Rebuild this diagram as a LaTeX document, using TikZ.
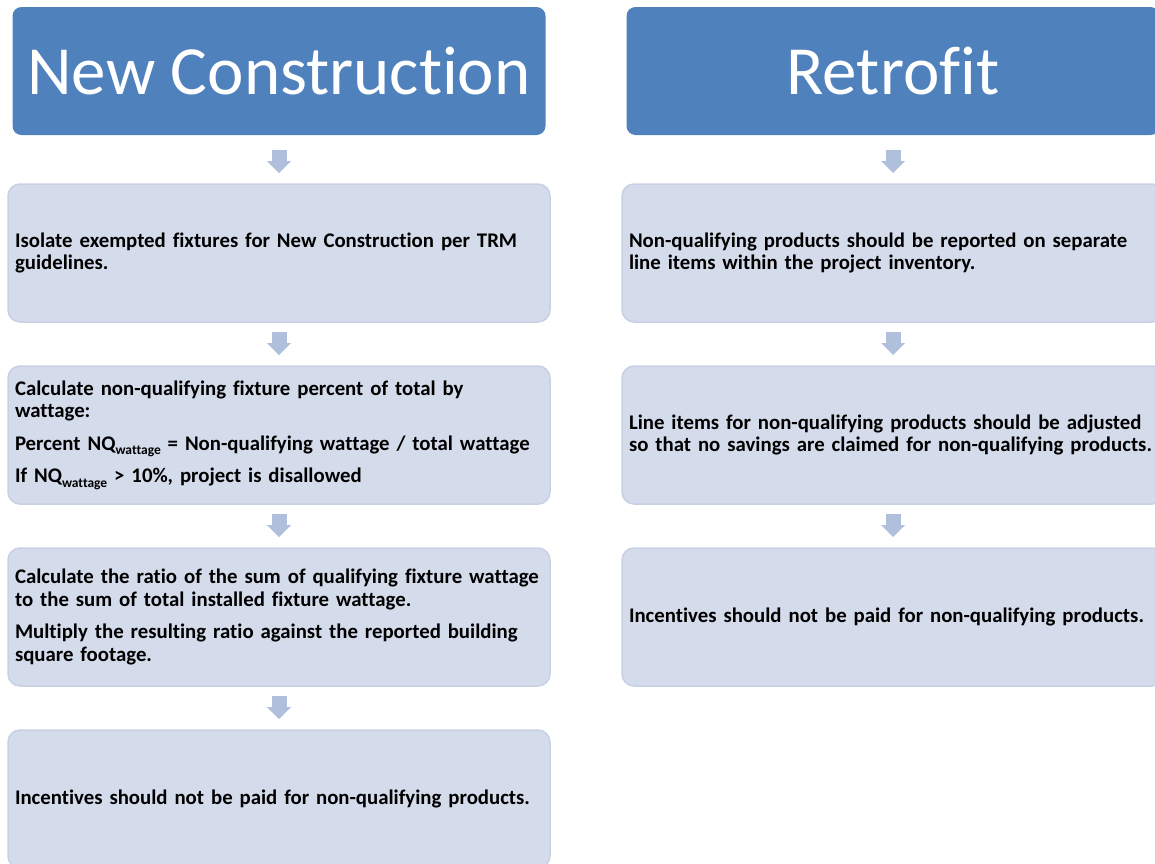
\documentclass[tikz,border=0pt]{standalone}
\usepackage{fontspec}
\setmainfont[Ligatures=NoCommon, Contextuals=NoAlternate]{Carlito}
\usetikzlibrary{positioning, arrows.meta}
\definecolor{headblue}{HTML}{4F81BD}
\definecolor{boxfill}{HTML}{D4DBEA}
\definecolor{boxline}{HTML}{C8D1E4}
\definecolor{arrowblue}{HTML}{AFBFDC}
\newcommand{\wattsub}{\raisebox{-0.45ex}{\fontsize{13.5}{13.5}\selectfont wattage}}
\tikzset{
    header/.style={fill=headblue, text=white, rounded corners=9pt, minimum width=533pt, minimum height=128pt, inner sep=0pt, outer sep=0pt, font=\fontsize{69}{80}\selectfont}, % the two title boxes
    stepbox/.style={fill=boxfill, draw=boxline, line width=1.5pt, rounded corners=12pt, text width=528pt, inner xsep=7pt, minimum height=138pt, outer sep=0pt, align=left, font=\bfseries\fontsize{20.8}{22.5}\selectfont}, % every step of a column
    flow/.style={draw=arrowblue, line width=15pt, -{Triangle[width=24pt, length=12pt, line width=0pt]}, shorten >=11pt, shorten <=10pt}, % block arrows between steps
    node distance=44pt, % gap between two steps
}
\begin{document}
\begin{tikzpicture}
                            \useasboundingbox (0,0) rectangle (1155pt,-863pt);
                            \clip (0,0) rectangle (1155pt,-863pt);
                            % left column
                            \node[header] (nc) at (279pt,-71pt) {New Construction};
                            \node[stepbox, below=49pt of nc] (n1) {Isolate exempted fixtures for New Construction per TRM\\ guidelines.};
                            \node[stepbox, below=of n1] (n2) {Calculate non-qualifying fixture percent of total by\\ wattage:\\[10pt] Percent NQ\wattsub{} = Non-qualifying wattage / total wattage\\[10pt] If NQ\wattsub{} > 10\%, project is disallowed};
                            \node[stepbox, below=of n2] (n3) {Calculate the ratio of the sum of qualifying fixture wattage\\ to the sum of total installed fixture wattage.\\[10pt] Multiply the resulting ratio against the reported building\\ square footage.};
                            \node[stepbox, below=of n3] (n4) {Incentives should not be paid for non-qualifying products.};
                            % right column
                            \node[header, right=81pt of nc] (rf) {Retrofit};
                            \node[stepbox, below=49pt of rf] (r1) {Non-qualifying products should be reported on separate\\ line items within the project inventory.};
                            \node[stepbox, below=of r1] (r2) {Line items for non-qualifying products should be adjusted\\ so that no savings are claimed for non-qualifying products.};
                            \node[stepbox, below=of r2] (r3) {Incentives should not be paid for non-qualifying products.};
                            \draw[flow, shorten <=15pt] (nc) -- (n1);
                            \draw[flow] (n1) -- (n2);
                            \draw[flow] (n2) -- (n3);
                            \draw[flow] (n3) -- (n4);
                            \draw[flow, shorten <=15pt] (rf) -- (r1);
                            \draw[flow] (r1) -- (r2);
                            \draw[flow] (r2) -- (r3);
                        \end{tikzpicture}
\end{document}
